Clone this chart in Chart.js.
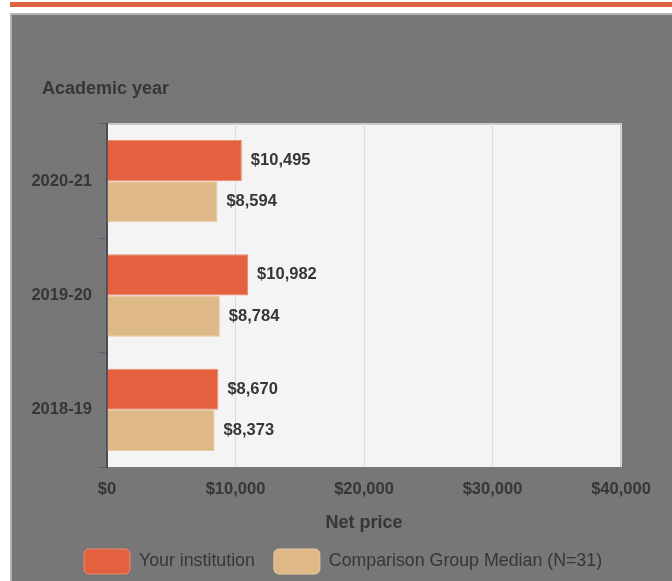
<!DOCTYPE html>
<html>
<head>
<meta charset="utf-8">
<script src="https://cdn.jsdelivr.net/npm/chart.js@4"></script>
<style>
    html, body { margin: 0; padding: 0; background: #fff; overflow: hidden; }
    body { width: 672px; height: 581px; position: relative; }
    .top-strip { position: absolute; left: 10px; top: 2px; width: 662px; height: 5px; background: #dd6240; }
    .panel { position: absolute; left: 10px; top: 13px; width: 700px; height: 600px; background: #777777; border: 2px solid #b4b4b4; }
    canvas { display: block; }
</style>
</head>
<body>
<div class="top-strip"></div>
<div class="panel">
    <canvas id="netPriceChart" width="660" height="569"></canvas>
</div>
<script>
// Net price data
const years = ['2020-21', '2019-20', '2018-19'];
const institutionValues = [10495, 10982, 8670];
const comparisonValues = [8594, 8784, 8373];
const xTicks = [0, 10000, 20000, 30000, 40000];

const colors = {
    text: '#363636',
    orange: '#e3613e',
    orangeEdge: '#ee8a70',
    tan: '#dfb887',
    tanEdge: '#e8c9a0',
    plotBg: '#f4f4f4',
    grid: '#d5dbea',
    axis: '#4a4d58'
};

const fontFamily = 'Arial, "Liberation Sans", sans-serif';

function money(v) {
    return '$' + v.toLocaleString('en-US');
}

// Plot background + border
const plotBackground = {
    id: 'plotBackground',
    beforeDraw(chart) {
        const { ctx, chartArea: a } = chart;
        ctx.save();
        ctx.fillStyle = colors.plotBg;
        ctx.fillRect(a.left, a.top, a.right - a.left, a.bottom - a.top);
        ctx.strokeStyle = '#c9c9cc';
        ctx.lineWidth = 2;
        ctx.beginPath();
        ctx.moveTo(a.left, a.top);
        ctx.lineTo(a.right, a.top);
        ctx.lineTo(a.right, a.bottom);
        ctx.stroke();
        ctx.restore();
    }
};

// "Academic year" label above the y axis, and nudge legend right
const yearHeading = {
    id: 'yearHeading',
    afterLayout(chart) {
        if (chart.legend) {
            chart.legend.left += 35;
            chart.legend.right += 35;
        }
    },
    afterDraw(chart) {
        const ctx = chart.ctx;
        ctx.save();
        ctx.font = 'bold 18px ' + fontFamily;
        ctx.fillStyle = colors.text;
        ctx.textAlign = 'left';
        ctx.textBaseline = 'middle';
        ctx.fillText('Academic year', 30, 74);
        ctx.restore();
    }
};

// Value labels to the right of each bar
const valueLabels = {
    id: 'valueLabels',
    afterDatasetsDraw(chart) {
        const ctx = chart.ctx;
        ctx.save();
        ctx.font = 'bold 16.5px ' + fontFamily;
        ctx.fillStyle = colors.text;
        ctx.textAlign = 'left';
        ctx.textBaseline = 'middle';
        chart.data.datasets.forEach((ds, i) => {
            const meta = chart.getDatasetMeta(i);
            meta.data.forEach((bar, j) => {
                ctx.fillText(money(ds.data[j]), bar.x + 9, bar.y);
            });
        });
        ctx.restore();
    }
};

new Chart(document.getElementById('netPriceChart'), {
    type: 'bar',
    data: {
        labels: years,
        datasets: [
            {
                label: 'Your institution',
                data: institutionValues,
                backgroundColor: colors.orange,
                borderColor: colors.orangeEdge,
                borderWidth: 1,
                categoryPercentage: 0.72,
                barPercentage: 1.0
            },
            {
                label: 'Comparison Group Median (N=31)',
                data: comparisonValues,
                backgroundColor: colors.tan,
                borderColor: colors.tanEdge,
                borderWidth: 1,
                categoryPercentage: 0.72,
                barPercentage: 1.0
            }
        ]
    },
    options: {
        indexAxis: 'y',
        responsive: false,
        animation: false,
        layout: {
            padding: { left: 18, right: 51, top: 109, bottom: 0 }
        },
        plugins: {
            legend: {
                position: 'bottom',
                align: 'start',
                labels: {
                    color: colors.text,
                    font: { family: fontFamily, size: 17.8 },
                    boxWidth: 46,
                    boxHeight: 25,
                    padding: 19,
                    useBorderRadius: true,
                    borderRadius: 5
                }
            },
            tooltip: { enabled: false }
        },
        scales: {
            x: {
                min: 0,
                max: 40000,
                afterBuildTicks(scale) {
                    scale.ticks = xTicks.map(v => ({ value: v }));
                },
                afterFit(scale) {
                    scale.height = 63;
                },
                border: { display: false },
                grid: {
                    color: colors.grid,
                    drawTicks: false
                },
                ticks: {
                    color: colors.text,
                    padding: 13,
                    font: { family: fontFamily, size: 16.5, weight: 'bold' },
                    callback: v => money(v)
                },
                title: {
                    display: true,
                    text: 'Net price',
                    color: colors.text,
                    font: { family: fontFamily, size: 18, weight: 'bold', lineHeight: 1 },
                    padding: { top: 2, bottom: -2 }
                }
            },
            y: {
                afterFit(scale) {
                    scale.width = 77;
                },
                border: { display: true, color: colors.axis, width: 2 },
                grid: {
                    drawOnChartArea: false,
                    drawTicks: true,
                    tickLength: 9,
                    color: '#5d6070'
                },
                ticks: {
                    color: colors.text,
                    padding: 6,
                    font: { family: fontFamily, size: 16.5, weight: 'bold' }
                }
            }
        }
    },
    plugins: [plotBackground, yearHeading, valueLabels]
});
</script>
</body>
</html>
